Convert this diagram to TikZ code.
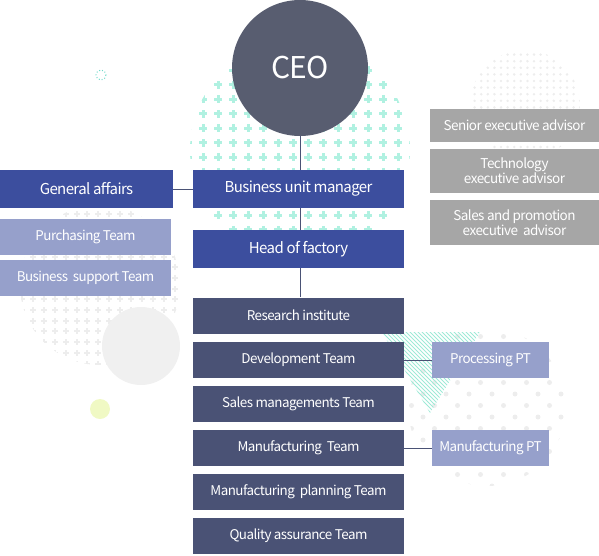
\documentclass[tikz,border=0pt]{standalone}
\usepackage{fontspec}
\setmainfont{Noto Sans CJK KR}[LetterSpace=-4]
\pgfdeclarelayer{deco}
\pgfdeclarelayer{lines}
\pgfsetlayers{deco,lines,main}
\definecolor{blueC}{HTML}{3C4E9E}
\definecolor{darkC}{HTML}{4A5275}
\definecolor{lightC}{HTML}{96A0CB}
\definecolor{grayC}{HTML}{A6A6A6}
\definecolor{ceoC}{HTML}{585D70}
\definecolor{mintC}{HTML}{B0F1E1}
\definecolor{hatchC}{HTML}{9EEAD6}
\definecolor{dotC}{HTML}{EDEDED}
\definecolor{pale}{HTML}{F0F0F0}
\definecolor{limeC}{HTML}{F0F9C4}
\definecolor{tealC}{HTML}{6FD9C9}
\tikzset{
  box/.style={rectangle, inner sep=0pt, text=white, align=center, font=\fontsize{13.4}{14}\selectfont},
  bluebox/.style={box, fill=blueC, minimum width=211pt, minimum height=38pt, font=\fontsize{15}{16}\selectfont},
  teambox/.style={box, fill=darkC, minimum width=211pt, minimum height=36pt, font=\fontsize{13.4}{14}\selectfont},
  leftbox/.style={box, fill=lightC, minimum width=171pt, minimum height=36pt},
  ptbox/.style={box, fill=lightC, minimum width=117pt, minimum height=36pt},
  advbox/.style={box, fill=grayC, minimum width=169pt, font=\fontsize{13.5}{13.5}\selectfont},
  conn/.style={draw=darkC, line width=0.9pt},
}
\begin{document}
\begin{tikzpicture}[x=1pt,y=-1pt]
\useasboundingbox (0,0) rectangle (599,555);

% nodes
\node[circle, fill=ceoC, minimum size=136pt, inner sep=0pt, text=white, font=\fontsize{30}{32}\selectfont] (ceo) at (300,68) {CEO};
\node[bluebox] (bum) at (298.5,189) {Business unit manager};
\node[bluebox] (hof) at (298.5,249) {Head of factory};
\node[bluebox, minimum width=173pt] (ga) at (86.5,189) {General affairs};
\node[leftbox] (pt) at (85.5,236.5) {Purchasing Team};
\node[leftbox] (bst) at (85.5,278) {Business\ \ support Team};

\node[teambox] (ri) at (298.5,315.5) {Research institute};
\node[teambox] (dev) at (298.5,360) {Development Team};
\node[teambox] (smt) at (298.5,404) {Sales managements Team};
\node[teambox] (mt) at (298.5,448) {Manufacturing\ \ Team};
\node[teambox] (mpt) at (298.5,492) {Manufacturing\ \ planning Team};
\node[teambox] (qat) at (298.5,536) {Quality assurance Team};

\node[ptbox] (proc) at (490.5,360) {Processing PT};
\node[ptbox] (mfpt) at (490.5,448) {Manufacturing PT};

\node[advbox, minimum height=33pt] (sea) at (514.5,125.5) {Senior executive advisor};
\node[advbox, minimum height=44pt] (tea) at (514.5,171) {Technology\\executive advisor};
\node[advbox, minimum height=45pt] (spa) at (514.5,222.5) {Sales and promotion\\executive\ \ advisor};

% connectors
\begin{pgfonlayer}{lines}
\draw[conn] (ceo.south) -- (ceo.south |- ri.north);
\draw[conn] (ga.east) -- (bum.west);
\draw[conn] (dev.east) -- (proc.west);
\draw[conn] (mt.east) -- (mfpt.west);
\end{pgfonlayer}

% decorations
\begin{pgfonlayer}{deco}
% mint crosses
\begin{scope}
\clip (300,150) circle (110);
\foreach \i in {0,...,15} {
  \foreach \j in {0,...,15} {
    \fill[mintC] ({188+\i*15-4},{41+\j*14.5-1.5}) rectangle ++(8,3);
    \fill[mintC] ({188+\i*15-1.5},{41+\j*14.5-4}) rectangle ++(3,8);
  }
}
\end{scope}
% gray crosses left
\begin{scope}
\clip (100,285) circle (80);
\foreach \i in {0,...,16} {
  \foreach \j in {0,...,16} {
    \fill[dotC] ({22+\i*10.9-3},{203+\j*10.7-1}) rectangle ++(6,2);
    \fill[dotC] ({22+\i*10.9-1},{203+\j*10.7-3}) rectangle ++(2,6);
  }
}
\end{scope}
% pale circle and lime circle
\fill[pale] (141,346) circle (39);
\fill[limeC] (100,409) circle (10);
% dashed teal small circle
\draw[tealC, dotted, line width=1pt] (101,75) circle (5);
% top-right dots
\begin{scope}
\clip (525,105) circle (55);
\foreach \i in {0,...,17} {
  \foreach \j in {0,...,17} {
    \fill[dotC] ({468+\i*6.6},{48+\j*6.6}) circle (1.4);
  }
}
\end{scope}
% bottom-right staggered dots
\begin{scope}
\clip (487,407) circle (79);
\foreach \i in {0,...,8} {
  \foreach \j in {0,...,15} {
    \pgfmathsetmacro{\xo}{mod(\j,2)*11.5}
    \fill[dotC] ({400+\i*23+\xo},{325+\j*11.5}) circle (2.5);
  }
}
\end{scope}
% teal hatch triangle
\begin{scope}
\clip (382,332) -- (480,332) -- (430,413) -- cycle;
\foreach \k in {-30,...,40} {
  \draw[hatchC, line width=0.8pt] ({330+\k*4},320) -- ++(110,110);
}
\end{scope}
\end{pgfonlayer}
\end{tikzpicture}
\end{document}
